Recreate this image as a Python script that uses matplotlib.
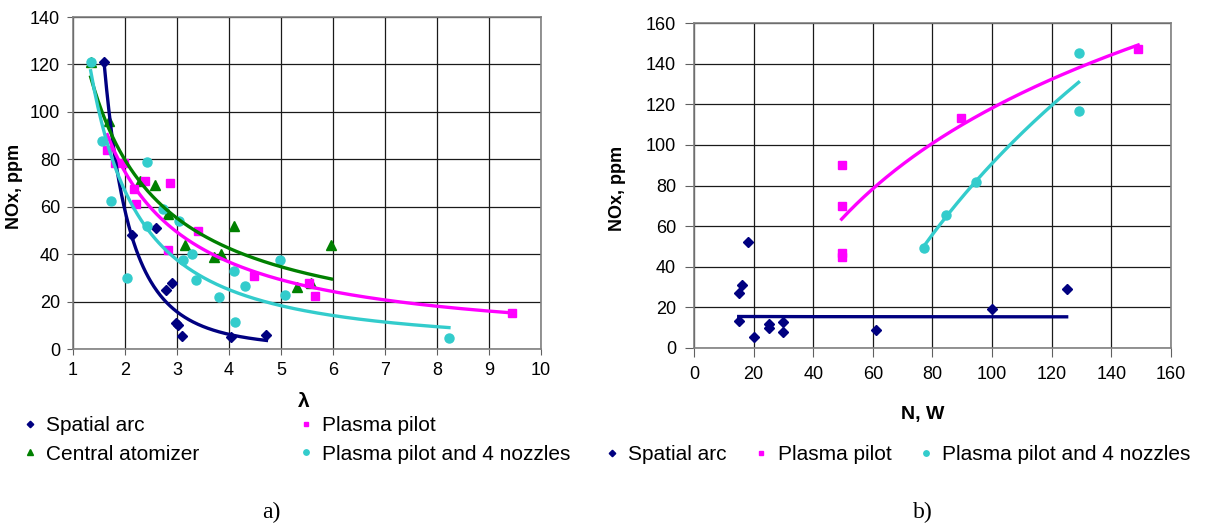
import numpy as np
import matplotlib.pyplot as plt

plt.rcParams['font.family'] = ['Liberation Sans', 'DejaVu Sans']

# a) NOx vs lambda
arc_lam = [1.60, 2.14, 2.59, 2.78, 2.90, 2.98, 3.02, 3.09, 4.04, 4.72]
arc_nox = [121, 48, 51, 25, 28, 11, 10, 5.5, 5, 6]

cen_lam = [1.34, 1.69, 2.28, 2.57, 2.82, 3.16, 3.72, 3.85, 4.10, 5.31, 5.58, 5.97]
cen_nox = [121, 96, 71, 69, 57, 44, 39, 40, 52, 26, 28, 44]

pp_lam = [1.66, 1.80, 1.99, 2.18, 2.22, 2.39, 2.82, 2.86, 3.40, 4.49, 5.53, 5.65, 9.45]
pp_nox = [84, 78.5, 78.5, 67.5, 61, 70.7, 41.8, 70, 49.6, 30.7, 27.7, 22.4, 15.3]

ppn_lam = [1.34, 1.56, 1.74, 2.04, 2.43, 2.43, 2.73, 3.03, 3.12, 3.29, 3.37, 3.80,
           4.10, 4.12, 4.31, 4.99, 5.07, 8.23]
ppn_nox = [121, 87.6, 62.5, 30, 79, 51.7, 59.2, 53.8, 37.6, 40, 29.2, 21.8,
           32.7, 11.2, 26.4, 37.6, 22.8, 4.5]

# b) NOx vs power
arc_n = [15, 16, 18, 15, 20, 25, 25, 30, 30, 61, 100, 125]
arc_ppm = [27, 31, 52, 13.5, 5.3, 12, 10, 13, 7.7, 9, 19, 29]

pp_n = [49.5, 49.5, 49.5, 49.5, 89.5, 149]
pp_ppm = [90.3, 69.7, 47, 45, 113.2, 147.2]

ppn_n = [77, 84.5, 94.5, 129, 129]
ppn_ppm = [49.2, 65.6, 81.7, 145, 116.5]

NAVY = '#000080'
MAG = '#FF00FF'
GREEN = '#008000'
CYAN = '#33CCCC'


# trendline through the data (power or log), like excel does
def trend(x, y, kind):
    x = np.array(x, float)
    y = np.array(y, float)
    xs = np.linspace(x.min(), x.max(), 200)
    if kind == 'power':
        b, a = np.polyfit(np.log(x), np.log(y), 1)
        return xs, np.exp(a) * xs ** b
    b, a = np.polyfit(np.log(x), y, 1)
    return xs, a + b * np.log(xs)


def style(ax, tlen, tpad):
    ax.grid(True, color='#1a1a1a', lw=0.9)
    ax.set_axisbelow(True)
    for s in ax.spines.values():
        s.set_color('#808080')
        s.set_linewidth(1.2)
    ax.tick_params(direction='out', length=tlen, color='#606060', labelsize=13, pad=tpad)


fig = plt.figure(figsize=(12.05, 5.27), dpi=100)
W, H = 1205, 527

ax1 = fig.add_axes([73 / W, 1 - 349 / H, (541 - 73) / W, (349 - 17) / H])
series_a = [
    (arc_lam, arc_nox, NAVY, 'D', 5.5, 'Spatial arc', 'power'),
    (cen_lam, cen_nox, GREEN, '^', 7, 'Central atomizer', 'power'),
    (pp_lam, pp_nox, MAG, 's', 6, 'Plasma pilot', 'power'),
    (ppn_lam, ppn_nox, CYAN, 'o', 6.5, 'Plasma pilot and 4 nozzles', 'power'),
]
handles = []
for x, y, c, m, ms, lab, kind in series_a:
    h, = ax1.plot(x, y, ls='none', marker=m, ms=ms, color=c, mec=c, label=lab)
    handles.append(h)
for x, y, c, m, ms, lab, kind in series_a:
    xs, ys = trend(x, y, kind)
    ax1.plot(xs, ys, color=c, lw=2.4)
style(ax1, 4.3, 5)
ax1.set_xlim(1, 10)
ax1.set_ylim(0, 140)
ax1.set_xticks(range(1, 11))
ax1.set_yticks(range(0, 141, 20))
ax1.set_ylabel('NOx, ppm', fontsize=13, fontweight='bold')
ax1.yaxis.set_label_coords(-0.107, 0.49)
ax1.set_xlabel('λ', fontsize=15, fontweight='bold', labelpad=0)
ax1.xaxis.set_label_coords(0.494, -0.13)
fig.legend(handles=handles, loc='upper left', bbox_to_anchor=(13 / W, 1 - 408 / H),
           ncol=2, frameon=False, fontsize=15, markerscale=0.6, handlelength=0.8,
           handletextpad=0.4, columnspacing=4.7, labelspacing=0.45, borderaxespad=0)

ax2 = fig.add_axes([694 / W, 1 - 348 / H, (1171 - 694) / W, (348 - 23) / H])
series_b = [
    (arc_n, arc_ppm, NAVY, 'D', 5.5, 'Spatial arc', 'power'),
    (pp_n, pp_ppm, MAG, 's', 6, 'Plasma pilot', 'log'),
    (ppn_n, ppn_ppm, CYAN, 'o', 6.5, 'Plasma pilot and 4 nozzles', 'log'),
]
handles = []
for x, y, c, m, ms, lab, kind in series_b:
    h, = ax2.plot(x, y, ls='none', marker=m, ms=ms, color=c, mec=c, label=lab)
    handles.append(h)
for x, y, c, m, ms, lab, kind in series_b:
    xs, ys = trend(x, y, kind)
    ax2.plot(xs, ys, color=c, lw=2.4)
style(ax2, 6.5, 6.5)
ax2.set_xlim(0, 160)
ax2.set_ylim(0, 160)
ax2.set_xticks(range(0, 161, 20))
ax2.set_yticks(range(0, 161, 20))
ax2.set_ylabel('NOx, ppm', fontsize=13, fontweight='bold')
ax2.yaxis.set_label_coords(-0.1426, 0.49)
ax2.set_xlabel('N, W', fontsize=14, fontweight='bold')
ax2.xaxis.set_label_coords(0.48, -0.178)
fig.legend(handles=handles, loc='upper left', bbox_to_anchor=(595 / W, 1 - 437 / H),
           ncol=3, frameon=False, fontsize=15, markerscale=0.6, handlelength=0.8,
           handletextpad=0.4, columnspacing=1.24, borderaxespad=0)

fig.text(271 / W, 1 - 512 / H, 'a)', ha='center', va='center', fontsize=17,
         family=['Liberation Serif', 'DejaVu Serif'])
fig.text(923 / W, 1 - 512 / H, 'b)', ha='center', va='center', fontsize=17,
         family=['Liberation Serif', 'DejaVu Serif'])

fig.savefig('out.png', dpi=100)
